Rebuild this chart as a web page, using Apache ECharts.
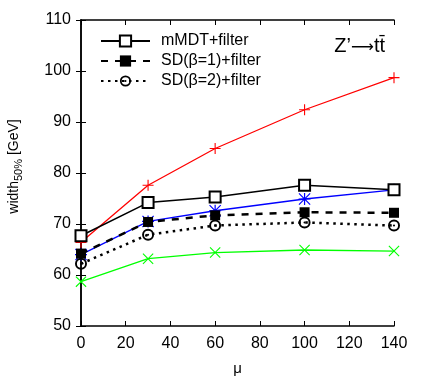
<!DOCTYPE html>
<html><head><meta charset="utf-8">
<script src="https://cdn.jsdelivr.net/npm/echarts@6/dist/echarts.min.js"></script>
<style>html,body{margin:0;padding:0;background:#fff}#c{width:423px;height:381px}</style>
</head><body><div id="c"></div>
<script>
const mu = [0, 30, 60, 100, 140];
const xTicks = [0, 20, 40, 60, 80, 100, 120, 140];
const yTicks = [50, 60, 70, 80, 90, 100, 110];
const redVals = [66.4, 77.6, 84.8, 92.4, 98.7];
const mmdtVals = [67.7, 74.2, 75.3, 77.6, 76.7];
const blueVals = [64.0, 70.5, 72.6, 74.9, 76.7];
const sd1Vals = [64.2, 70.4, 71.7, 72.3, 72.2];
const sd2Vals = [62.2, 67.9, 69.7, 70.3, 69.7];
const greenVals = [58.7, 63.2, 64.4, 64.9, 64.7];
const names = ['mMDT+filter', 'SD(β=1)+filter', 'SD(β=2)+filter'];

const FONT = "'Liberation Sans', Arial, sans-serif";
const plusP = 'path://M9,0h2v9h9v2h-9v9h-2v-9h-9v-2h9z';
const xP = 'path://M0,1.4L1.4,0L10,8.6L18.6,0L20,1.4L11.4,10L20,18.6L18.6,20L10,11.4L1.4,20L0,18.6L8.6,10Z';
const starP = 'path://M9,0h2v9h9v2h-9v9h-2v-9h-9v-2h9z M0,1.4L1.4,0L10,8.6L18.6,0L20,1.4L11.4,10L20,18.6L18.6,20L10,11.4L1.4,20L0,18.6L8.6,10Z';
const ringP = 'path://M10,0A10,10 0 1,1 10,20A10,10 0 1,1 10,0Z M10,3.2A6.8,6.8 0 1,0 10,16.8A6.8,6.8 0 1,0 10,3.2Z M10,8.2A1.8,1.8 0 1,1 10,11.8A1.8,1.8 0 1,1 10,8.2Z';

const pairs = v => mu.map((m, i) => [m, v[i]]);

const chart = echarts.init(document.getElementById('c'));
const axisCommon = {
  type: 'value',
  axisLine: { show: true, lineStyle: { color: '#000', width: 1.5 } },
  axisTick: { show: true, inside: true, length: 5, lineStyle: { color: '#000', width: 1 } },
  splitLine: { show: false },
  axisLabel: { color: '#000', fontFamily: FONT, fontSize: 16 }
};
chart.setOption({
  animation: false,
  backgroundColor: '#fff',
  grid: { left: 81, right: 29, top: 20, bottom: 53 },
  legend: {
    data: names,
    orient: 'vertical',
    left: 100, top: 33, padding: 0,
    itemWidth: 49, itemHeight: 14, itemGap: 4,
    textStyle: { fontFamily: FONT, fontSize: 16, color: '#000', padding: [0, 0, 0, 6] }
  },
  xAxis: [
    Object.assign({}, axisCommon, {
      min: xTicks[0], max: xTicks[xTicks.length - 1], interval: 20,
      axisLabel: Object.assign({}, axisCommon.axisLabel, { margin: 10 }),
      name: 'μ', nameLocation: 'middle', nameGap: 35,
      nameTextStyle: { fontFamily: FONT, fontSize: 15, color: '#000' }
    }),
    Object.assign({}, axisCommon, {
      position: 'top', min: 0, max: 140, interval: 20,
      axisLabel: { show: false }
    })
  ],
  yAxis: [
    Object.assign({}, axisCommon, {
      min: yTicks[0], max: yTicks[yTicks.length - 1], interval: 10,
      axisLabel: Object.assign({}, axisCommon.axisLabel, { margin: 10 })
    }),
    Object.assign({}, axisCommon, {
      position: 'right', min: 50, max: 110, interval: 10,
      axisLabel: { show: false }
    })
  ],
  graphic: [{
    type: 'text', x: 385, y: 46,
    style: {
      text: '{a|Z’}{b|⟶}{a|tt̄}', align: 'right', verticalAlign: 'middle',
      rich: {
        a: { font: '20px ' + FONT, fill: '#000' },
        b: { font: "16px 'DejaVu Sans'", fill: '#000', padding: [3, 0, 0, 0] }
      }
    }
  }, {
    type: 'text', x: 14, y: 166.5, rotation: Math.PI / 2,
    style: {
      text: '{a|width}{s|50%}{a| [GeV]}', align: 'center', verticalAlign: 'middle',
      rich: {
        a: { font: '14px ' + FONT, fill: '#000', lineHeight: 20, verticalAlign: 'middle' },
        s: { font: '11px ' + FONT, fill: '#000', lineHeight: 12, verticalAlign: 'bottom' }
      }
    }
  }],
  series: [
    { name: 'red', type: 'line', data: pairs(redVals), symbol: plusP, symbolSize: 11,
      lineStyle: { color: '#ff0000', width: 1.3 }, itemStyle: { color: '#ff0000' }, z: 2 },
    { name: names[0], type: 'line', data: pairs(mmdtVals), symbol: 'emptyRect', symbolSize: 11,
      lineStyle: { color: '#000', width: 1.5 }, itemStyle: { color: '#000', borderColor: '#000', borderWidth: 1.5 }, z: 3 },
    { name: 'blue', type: 'line', data: pairs(blueVals), symbol: starP, symbolSize: 12,
      lineStyle: { color: '#0000ff', width: 1.3 }, itemStyle: { color: '#0000ff' }, z: 2 },
    { name: names[1], type: 'line', data: pairs(sd1Vals), symbol: 'rect', symbolSize: 10,
      lineStyle: { color: '#000', width: 2.5, type: [7, 7] }, itemStyle: { color: '#000' }, z: 3 },
    { name: names[2], type: 'line', data: pairs(sd2Vals), symbol: ringP, symbolSize: 12,
      lineStyle: { color: '#000', width: 2.5, type: [2.5, 4.5] }, itemStyle: { color: '#000' }, z: 3 },
    { name: 'green', type: 'line', data: pairs(greenVals), symbol: xP, symbolSize: 11,
      lineStyle: { color: '#00ff00', width: 1.3 }, itemStyle: { color: '#00ff00' }, z: 2 }
  ]
});
</script></body></html>
